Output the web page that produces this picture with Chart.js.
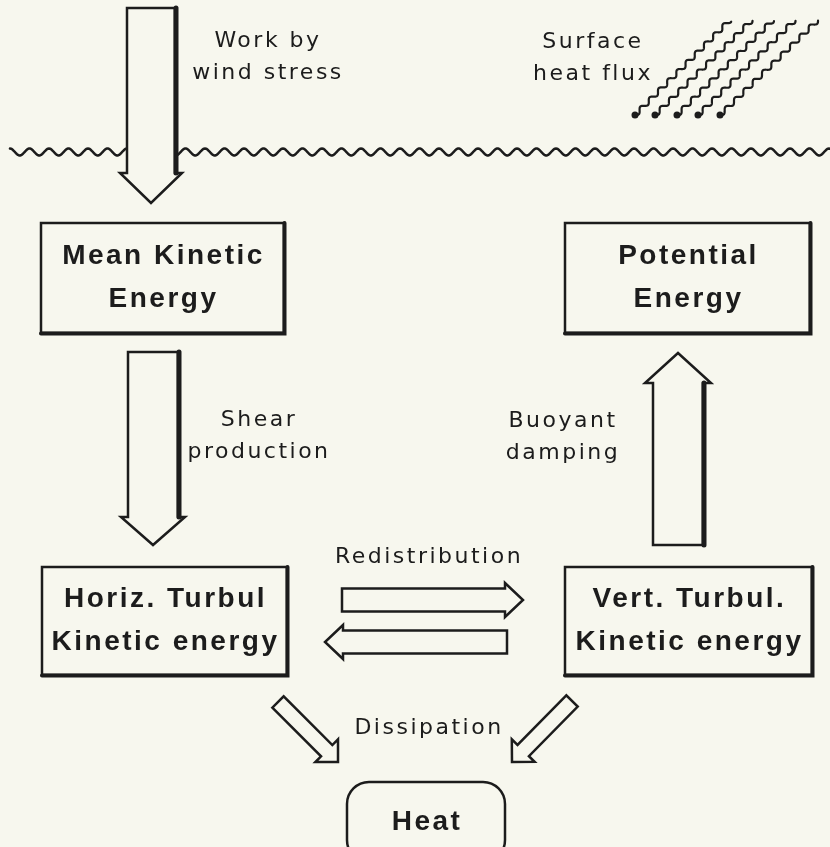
<!DOCTYPE html>
<html>
<head>
<meta charset="utf-8">
<script src="https://cdn.jsdelivr.net/npm/chart.js@4.4.0/dist/chart.umd.min.js"></script>
<style>
    html, body { margin: 0; padding: 0; background: #f7f7ee; }
    #wrap { width: 830px; height: 847px; }
</style>
</head>
<body>
<div id="wrap"><canvas id="energyChart"></canvas></div>
<script>
// Diagram units: 0..830 across, 0..847 down (y axis is reversed)

// Energy reservoirs
const nodeLabels = [['Mean Kinetic', 'Energy'], ['Potential', 'Energy'], ['Horiz. Turbul', 'Kinetic energy'], ['Vert. Turbul.', 'Kinetic energy'], ['Heat']];
const nodeX = [162.5, 687.5, 164.5, 688.5, 426];
const nodeY = [278, 278, 621, 621, 822];

// Energy transfers (tail -> tip)
const flowFromX = [151, 153, 678, 342, 507, 278, 572];
const flowFromY = [8, 352, 545, 600, 642, 702, 701];
const flowToX = [151, 153, 678, 523, 325, 338, 512];
const flowToY = [203, 545, 353, 600, 642, 762, 762];

// Transfer labels
const flowLabels = [['Work by', 'wind stress'], ['Surface', 'heat flux'], ['Shear', 'production'], ['Buoyant', 'damping'], ['Redistribution'], ['Dissipation']];
const flowLabelX = [267, 592, 258, 562, 428, 428];
const flowLabelY = [57, 58, 436, 437, 557, 728];

// Surface heat flux rays (lower end -> upper end)
const rayFromX = [635, 655, 677, 698, 720];
const rayToX = [730, 752, 773, 795, 818];
const rayFromY = 115;
const rayToY = 20;

// Sea surface
const surfaceFrom = 10;
const surfaceTo = 830;
const surfaceLevel = 152;

const ink = '#1c1c1c';
const paper = '#f7f7ee';

// sizes of the boxes and arrows, same order as the arrays above
const nodeSize = [[243, 110], [245, 110], [245, 108], [247, 108], [158, 80]];
const arrowShape = [
    { shaft: 48, head: 31, len: 30, heavy: true },
    { shaft: 50, head: 32, len: 28, heavy: true },
    { shaft: 50, head: 33, len: 30, heavy: true },
    { shaft: 23, head: 17, len: 18 },
    { shaft: 23, head: 17, len: 18 },
    { shaft: 16, head: 16, len: 16 },
    { shaft: 16, head: 16, len: 16 }
];

const diagramPlugin = {
    id: 'diagram',
    beforeDraw(chart) {
        const { ctx, width, height } = chart;
        ctx.save();
        ctx.fillStyle = paper;
        ctx.fillRect(0, 0, width, height);
        ctx.restore();
    },
    afterDatasetsDraw(chart) {
        const ctx = chart.ctx;
        const sx = chart.scales.x, sy = chart.scales.y;
        const px = v => sx.getPixelForValue(v);
        const py = v => sy.getPixelForValue(v);
        ctx.save();
        ctx.strokeStyle = ink;
        ctx.fillStyle = ink;
        ctx.lineCap = 'round';
        ctx.lineJoin = 'round';

        // sea surface
        ctx.lineWidth = 2.5;
        ctx.beginPath();
        for (let x = surfaceFrom; x <= surfaceTo; x += 1) {
            const y = surfaceLevel - 3.5 * Math.sin(2 * Math.PI * (x - surfaceFrom) / 19.5 + Math.PI / 2);
            if (x === surfaceFrom) ctx.moveTo(px(x), py(y)); else ctx.lineTo(px(x), py(y));
        }
        ctx.stroke();

        // heat flux rays
        rayFromX.forEach((x0, i) => {
            const x1 = rayToX[i];
            const ax = px(x0), ay = py(rayFromY), bx = px(x1), by = py(rayToY);
            const L = Math.hypot(bx - ax, by - ay);
            const ux = (bx - ax) / L, uy = (by - ay) / L;
            ctx.lineWidth = 2.2;
            ctx.beginPath();
            for (let s = 0; s <= L; s += 0.5) {
                const w = 2.2 * Math.sin(2 * Math.PI * s / 13);
                const x = ax + ux * s - uy * w, y = ay + uy * s + ux * w;
                if (s === 0) ctx.moveTo(x, y); else ctx.lineTo(x, y);
            }
            ctx.stroke();
            ctx.beginPath();
            ctx.arc(ax, ay, 3.5, 0, Math.PI * 2);
            ctx.fill();
        });

        // arrows
        flowFromX.forEach((x0, i) => {
            const sh = arrowShape[i];
            const ax = px(x0), ay = py(flowFromY[i]);
            const bx = px(flowToX[i]), by = py(flowToY[i]);
            const L = Math.hypot(bx - ax, by - ay);
            const ux = (bx - ax) / L, uy = (by - ay) / L;
            const nx = -uy, ny = ux;
            const cx = bx - ux * sh.len, cy = by - uy * sh.len;
            const s = sh.shaft / 2, h = sh.head;
            const pts = [
                [ax + nx * s, ay + ny * s],
                [cx + nx * s, cy + ny * s],
                [cx + nx * h, cy + ny * h],
                [bx, by],
                [cx - nx * h, cy - ny * h],
                [cx - nx * s, cy - ny * s],
                [ax - nx * s, ay - ny * s]
            ];
            ctx.beginPath();
            pts.forEach((p, k) => k ? ctx.lineTo(p[0], p[1]) : ctx.moveTo(p[0], p[1]));
            ctx.closePath();
            ctx.fillStyle = paper;
            ctx.fill();
            ctx.lineWidth = 2.5;
            ctx.lineJoin = 'miter';
            ctx.stroke();
            if (sh.heavy) {
                // the right-hand shaft edge is drawn heavier
                const edge = pts[0][0] > pts[6][0] ? [pts[0], pts[1]] : [pts[6], pts[5]];
                ctx.lineWidth = 5;
                ctx.beginPath();
                ctx.moveTo(edge[0][0] + 1, edge[0][1]);
                ctx.lineTo(edge[1][0] + 1, edge[1][1]);
                ctx.stroke();
            }
        });

        // boxes
        ctx.lineJoin = 'miter';
        nodeLabels.forEach((lines, i) => {
            const w = nodeSize[i][0], hgt = nodeSize[i][1];
            const x0 = px(nodeX[i] - w / 2), x1 = px(nodeX[i] + w / 2);
            const y0 = py(nodeY[i] - hgt / 2), y1 = py(nodeY[i] + hgt / 2);
            ctx.fillStyle = paper;
            ctx.lineWidth = 2.5;
            ctx.beginPath();
            if (lines.length === 1) {
                ctx.roundRect(x0, y0, x1 - x0, y1 - y0, 22);
            } else {
                ctx.rect(x0, y0, x1 - x0, y1 - y0);
            }
            ctx.fill();
            ctx.stroke();
            if (lines.length > 1) {
                ctx.lineWidth = 4;
                ctx.beginPath();
                ctx.moveTo(x1 + 0.5, y0);
                ctx.lineTo(x1 + 0.5, y1 + 0.5);
                ctx.lineTo(x0, y1 + 0.5);
                ctx.stroke();
            }
            ctx.fillStyle = ink;
            ctx.font = 'bold 28px "Liberation Sans", Arial, sans-serif';
            ctx.letterSpacing = '2.5px';
            ctx.textAlign = 'center';
            ctx.textBaseline = 'middle';
            const gap = 43;
            lines.forEach((t, k) => {
                const yy = py(nodeY[i] + (k - (lines.length - 1) / 2) * gap);
                ctx.fillText(t, px(nodeX[i]) + 1, yy);
            });
        });

        // transfer labels
        ctx.fillStyle = ink;
        ctx.font = '22px "DejaVu Sans", sans-serif';
        ctx.letterSpacing = '2.5px';
        ctx.textAlign = 'center';
        ctx.textBaseline = 'middle';
        flowLabels.forEach((lines, i) => {
            lines.forEach((t, k) => {
                const yy = py(flowLabelY[i] + (k - (lines.length - 1) / 2) * 32);
                ctx.fillText(t, px(flowLabelX[i]) + 1, yy);
            });
        });
        ctx.restore();
    }
};

new Chart(document.getElementById('energyChart').getContext('2d'), {
    type: 'scatter',
    data: {
        datasets: [{
            label: 'Energy reservoirs',
            data: nodeX.map((x, i) => ({ x: x, y: nodeY[i] })),
            pointRadius: 0
        }]
    },
    options: {
        responsive: true,
        maintainAspectRatio: false,
        animation: false,
        layout: { padding: 0 },
        plugins: {
            legend: { display: false },
            tooltip: { enabled: false }
        },
        scales: {
            x: { type: 'linear', min: 0, max: 830, display: false },
            y: { type: 'linear', min: 0, max: 847, reverse: true, display: false }
        }
    },
    plugins: [diagramPlugin]
});
</script>
</body>
</html>
